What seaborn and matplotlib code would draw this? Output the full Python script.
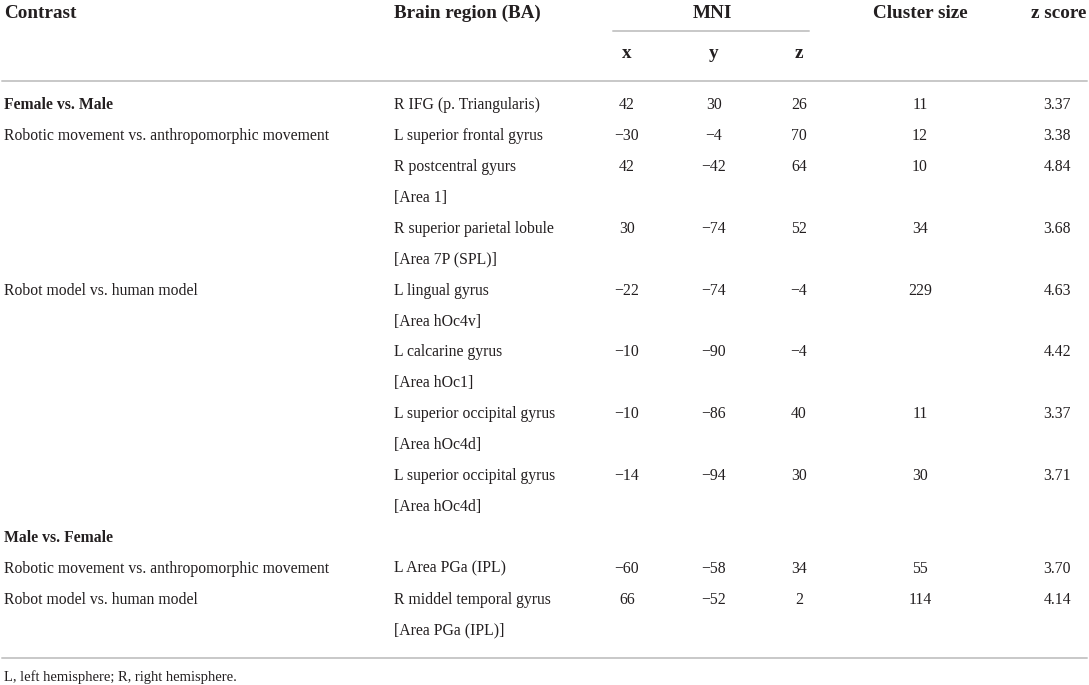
import matplotlib
matplotlib.use('Agg')
import matplotlib.pyplot as plt
import seaborn as sns

# Table content, one entry per printed line
contrasts = ["Female vs. Male", "Robotic movement vs. anthropomorphic movement", "", "", "", "",
             "Robot model vs. human model", "", "", "", "", "", "", "",
             "Male vs. Female", "Robotic movement vs. anthropomorphic movement",
             "Robot model vs. human model", ""]
bold_rows = [0, 14]
regions = ["R IFG (p. Triangularis)", "L superior frontal gyrus", "R postcentral gyurs", "[Area 1]",
           "R superior parietal lobule", "[Area 7P (SPL)]", "L lingual gyrus", "[Area hOc4v]",
           "L calcarine gyrus", "[Area hOc1]", "L superior occipital gyrus", "[Area hOc4d]",
           "L superior occipital gyrus", "[Area hOc4d]", "", "L Area PGa (IPL)",
           "R middel temporal gyrus", "[Area PGa (IPL)]"]
mni_x = [42, -30, 42, None, 30, None, -22, None, -10, None, -10, None, -14, None, None, -60, 66, None]
mni_y = [30, -4, -42, None, -74, None, -74, None, -90, None, -86, None, -94, None, None, -58, -52, None]
mni_z = [26, 70, 64, None, 52, None, -4, None, -4, None, 40, None, 30, None, None, 34, 2, None]
cluster = [11, 12, 10, None, 34, None, 229, None, None, None, 11, None, 30, None, None, 55, 114, None]
zscore = [3.37, 3.38, 4.84, None, 3.68, None, 4.63, None, 4.42, None, 3.37, None, 3.71, None, None,
          3.70, 4.14, None]
footnote = "L, left hemisphere; R, right hemisphere."


def fmt_int(v):
    if v is None:
        return ""
    return ("\u2212" if v < 0 else "") + str(abs(v))


def fmt_z(v):
    return "" if v is None else f"{v:.2f}"


sns.set_theme(style="white")
plt.rcParams['font.family'] = ['Liberation Serif', 'DejaVu Serif']

fig = plt.figure(figsize=(10.89, 6.85), dpi=100)
ax = fig.add_axes([0, 0, 1, 1])
ax.set_xlim(0, 1089)
ax.set_ylim(685, 0)
ax.axis('off')

txt = "#231f20"
rule = "#c8c8c8"
hsize = 13.8
bsize = 11.3

# header (baseline aligned)
hb = 18
ax.text(4, hb, "Contrast", fontsize=hsize, fontweight='bold', color=txt, va='baseline', ha='left')
ax.text(394, hb, "Brain region (BA)", fontsize=hsize, fontweight='bold', color=txt, va='baseline', ha='left')
ax.text(712, hb, "MNI", fontsize=hsize, fontweight='bold', color=txt, va='baseline', ha='center')
ax.text(920, hb, "Cluster size", fontsize=hsize, fontweight='bold', color=txt, va='baseline', ha='center')
ax.text(1086, hb, "z score", fontsize=hsize, fontweight='bold', color=txt, va='baseline', ha='right')
ax.plot([613, 809], [31, 31], color=rule, lw=1.4)
col_x = [627, 714, 799]
for cx, lab in zip(col_x, ["x", "y", "z"]):
    ax.text(cx, 58, lab, fontsize=hsize, fontweight='bold', color=txt, va='baseline', ha='center')
ax.plot([2, 1087], [81, 81], color=rule, lw=1.4)

# body
y0, dy = 104, 30.9
off = 5.2
for i in range(len(regions)):
    y = y0 + i * dy + off
    ax.text(4, y, contrasts[i], fontsize=bsize, color=txt, va='baseline', ha='left',
            fontweight='bold' if i in bold_rows else 'normal')
    ax.text(394, y, regions[i], fontsize=bsize, color=txt, va='baseline', ha='left')
    for cx, vals in zip(col_x, [mni_x, mni_y, mni_z]):
        ax.text(cx, y, fmt_int(vals[i]), fontsize=bsize, color=txt, va='baseline', ha='center')
    ax.text(920, y, fmt_int(cluster[i]), fontsize=bsize, color=txt, va='baseline', ha='center')
    ax.text(1071, y, fmt_z(zscore[i]), fontsize=bsize, color=txt, va='baseline', ha='right')

ax.plot([2, 1087], [658, 658], color=rule, lw=1.4)
ax.text(4, 681, footnote, fontsize=bsize - 0.8, color=txt, va='baseline', ha='left')

fig.savefig("out.png", dpi=100)
